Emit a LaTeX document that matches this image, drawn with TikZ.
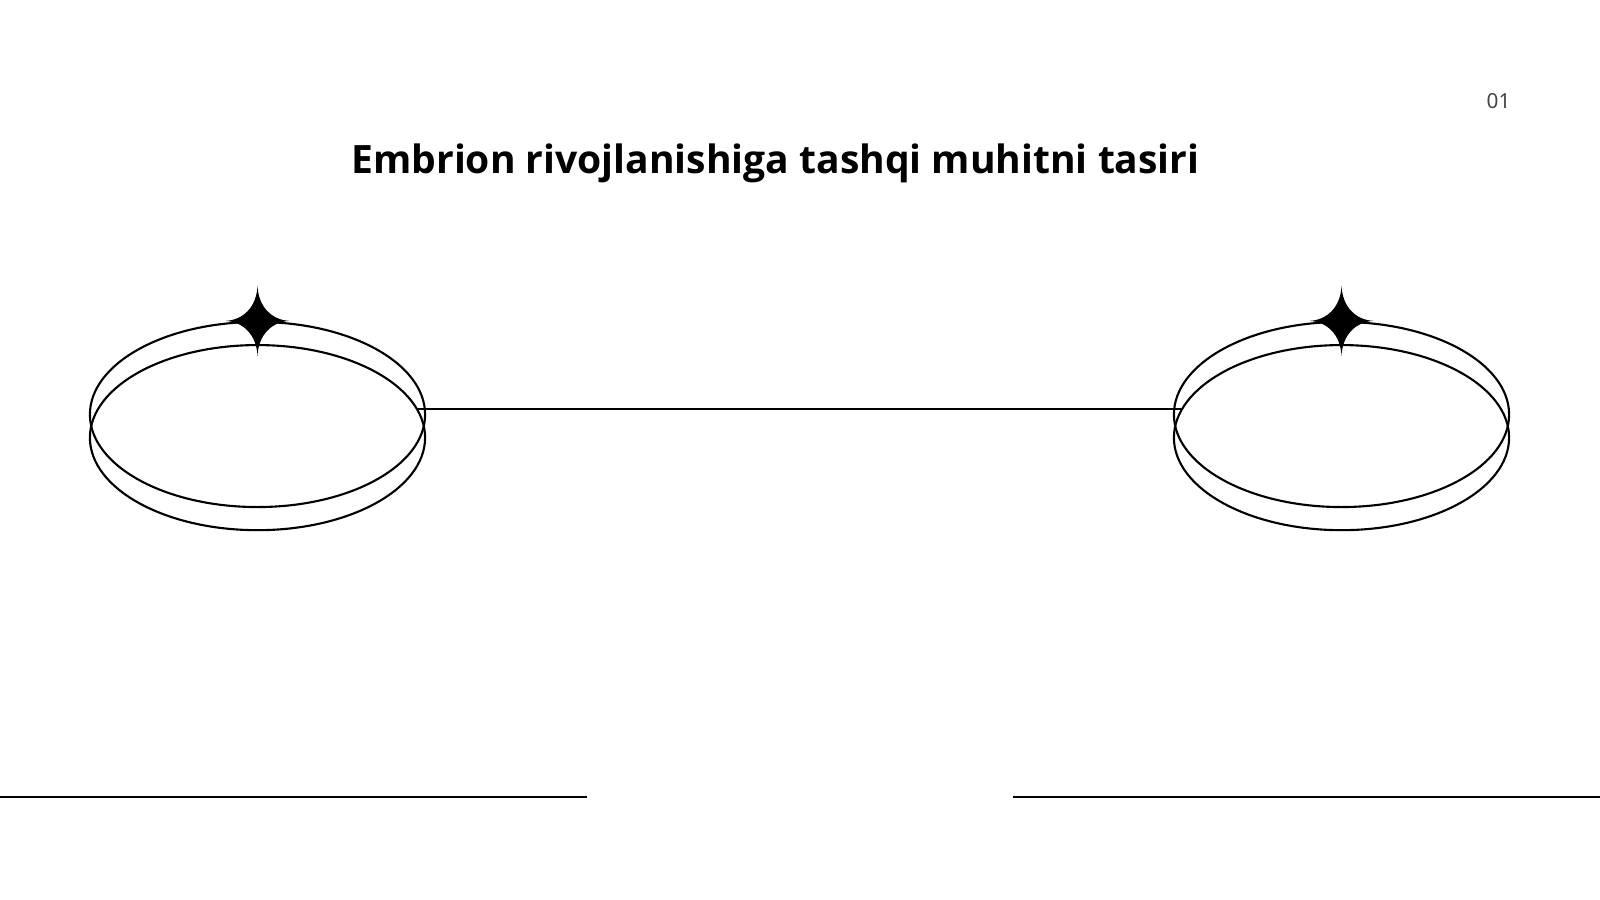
\documentclass[tikz,border=0pt]{standalone}
\usepackage{fontspec}
\setmainfont{Noto Sans}
\newfontfamily\titlefont{Open Sans}
\usepackage{xcolor}
\usepackage{tikz}
\usetikzlibrary{calc, shapes, positioning}
\definecolor{pagenum}{HTML}{444444}
\tikzset{
    dishnode/.style = {draw, ellipse, inner sep = 0em, line width=0.6pt,
      minimum width=3.35cm, minimum height=1.85cm},
    titlenode/.style = {draw=none, fill=none, rectangle, inner sep = 0em, anchor=base,
      font=\titlefont\bfseries\fontsize{11.1}{14}\selectfont},
    numnode/.style = {draw=none, fill=none, rectangle, inner sep = 0em, anchor=base,
      text=pagenum, font=\fontsize{5.9}{7}\selectfont},
    connect/.style = {black, line width=0.6pt},
    sparkfill/.style = {fill=black}
}
\newcommand{\sparkle}[1]{%
    \fill[sparkfill, shift={(#1)}] (0,-35) .. controls (1,-14) and (14,-1) .. (32,0)
        .. controls (14,1) and (1,14) .. (0,35) .. controls (-1,14) and (-14,1) .. (-32,0)
        .. controls (-14,-1) and (-1,-14) .. cycle;}

\begin{document}
\begin{tikzpicture}[x=0.01cm, y=-0.01cm]
    \useasboundingbox (0,0) rectangle (1600,900);
    \fill[white] (0,0) rectangle (1600,900);

    \node [titlenode, name=title] at (775.5,173) {Embrion rivojlanishiga tashqi muhitni tasiri};
    \node [numnode, name=pagenum] at (1498.5,108) {01};

    % left dish
    \node [dishnode, name=dishtopL] at (257.5,414.5) {};
    \node [dishnode, name=dishbotL, below=-1.64cm of dishtopL] {};
    \sparkle{dishtopL.north}

    % right dish
    \node [dishnode, name=dishtopR] at (1341.5,414.5) {};
    \node [dishnode, name=dishbotR, below=-1.64cm of dishtopR] {};
    \sparkle{dishtopR.north}

    \draw[connect] (dishbotL.10) -- (dishbotR.170);

    \coordinate (baseA) at (0,797);
    \coordinate (baseB) at (587,797);
    \coordinate (baseC) at (1013,797);
    \coordinate (baseD) at (1600,797);
    \draw[connect] (baseA) -- (baseB);
    \draw[connect] (baseC) -- (baseD);
\end{tikzpicture}
\end{document}
